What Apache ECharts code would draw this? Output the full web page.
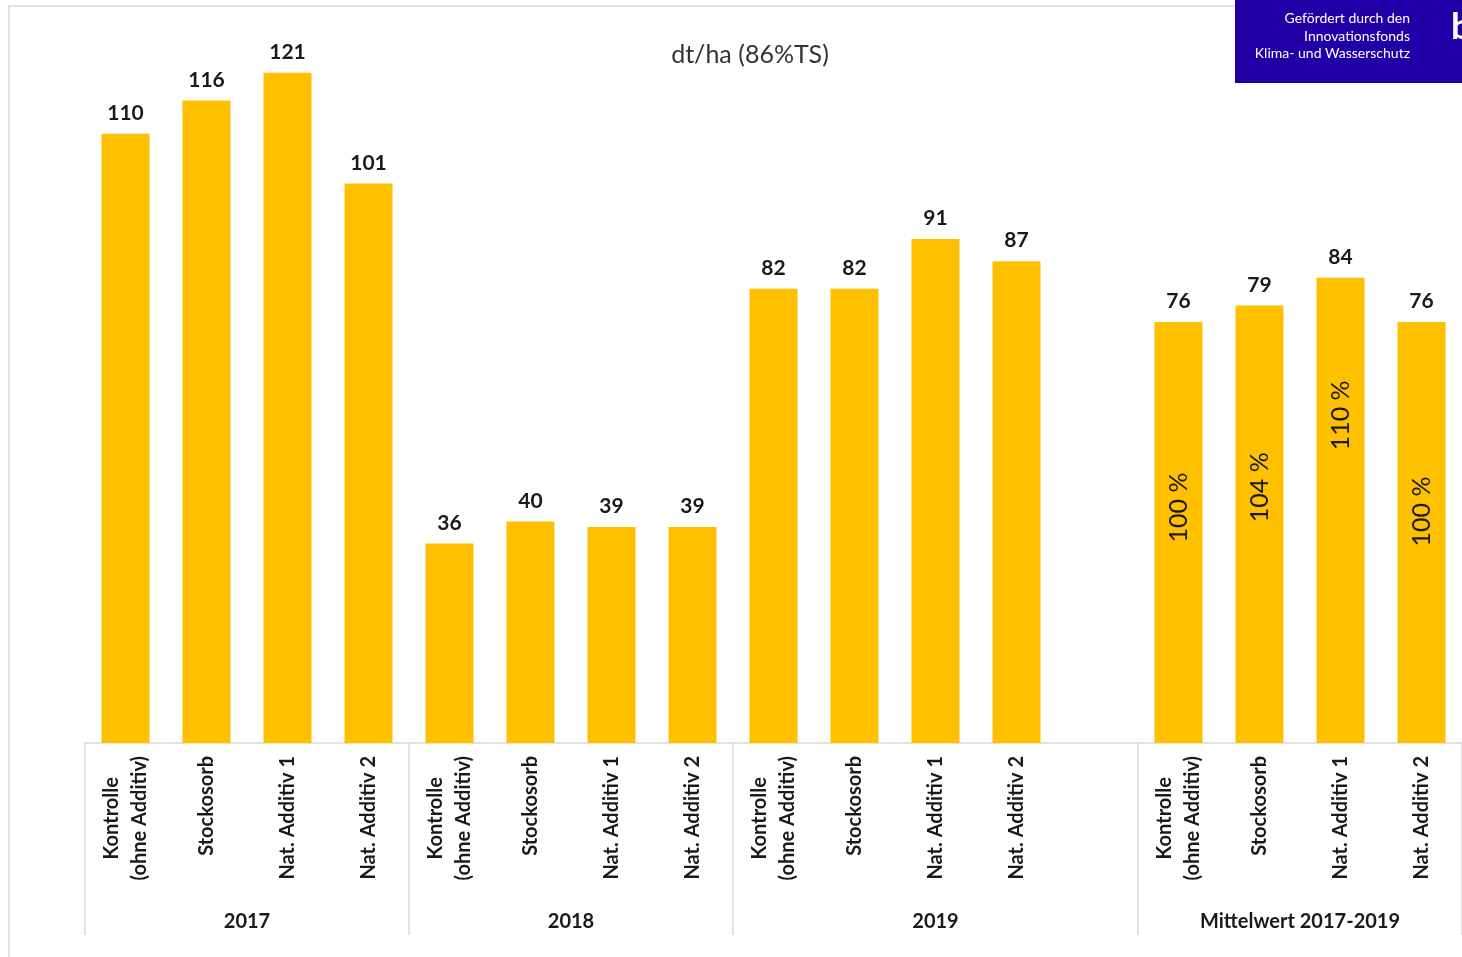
<!DOCTYPE html>
<html>
<head>
<meta charset="utf-8">
<script src="https://cdn.jsdelivr.net/npm/echarts@6/dist/echarts.min.js"></script>
<style>html,body{margin:0;padding:0;background:#fff;}#c{width:1462px;height:957px;}</style>
</head>
<body>
<div id="c"></div>
<script>
// ---- data ----
const treatments = ['Kontrolle\n(ohne Additiv)', 'Stockosorb', 'Nat. Additiv 1', 'Nat. Additiv 2'];
const categories = [].concat(treatments, treatments, treatments, [''], treatments);
const yields = [110, 116, 121, 101, 36, 40, 39, 39, 82, 82, 91, 87, null, 76, 79, 84, 76];
const percents = [null, null, null, null, null, null, null, null, null, null, null, null, null, 100, 104, 110, 100];
const groupNames = ['2017', '2018', '2019', 'Mittelwert 2017-2019'];
const groupSpans = [4, 4, 5, 4];
const titleText = 'dt/ha (86%TS)';
const logoLines = ['Gefördert durch den', 'Innovationsfonds', 'Klima- und Wasserschutz'];

// ---- build group axis (half-slot points) ----
const groupPoints = [];
for (let i = 0; i <= categories.length * 2; i++) groupPoints.push('');
const tickIdx = new Set();
const labelIdx = {};
let start = 0;
groupNames.forEach((g, k) => {
  tickIdx.add(start * 2);
  const c = start * 2 + groupSpans[k];
  groupPoints[c] = g;
  labelIdx[c] = true;
  start += groupSpans[k];
});
tickIdx.add(start * 2);

const FONT = 'Lato, "Open Sans", sans-serif';
const pctOffsets = [[25, 0], [37, 0], [95, 0], [21, 0]];

const chart = echarts.init(document.getElementById('c'));
chart.setOption({
  animation: false,
  backgroundColor: '#fff',
  textStyle: { fontFamily: FONT },
  title: {
    text: titleText, left: 745, top: 37, textAlign: 'center',
    textStyle: { fontSize: 25, fontWeight: 'normal', color: '#333', fontFamily: FONT }
  },
  grid: { left: 85, right: 0, top: 23, bottom: 214, containLabel: false },
  xAxis: [{
    type: 'category', data: categories,
    axisLine: { lineStyle: { color: '#d9d9d9', width: 1.5 } },
    axisTick: { show: false },
    axisLabel: {
      interval: 0, rotate: 90, margin: 13, fontSize: 20, fontWeight: 'bold', color: '#1a1a1a',
      fontFamily: FONT,
      formatter: v => v.split('\n').map(s => '{a|' + s + '}').join('\n'),
      rich: { a: { align: 'center', fontSize: 20, fontWeight: 'bold', color: '#1a1a1a', fontFamily: FONT, lineHeight: 28 } }
    }
  }, {
    type: 'category', data: groupPoints, boundaryGap: false, position: 'bottom',
    axisLine: { show: false },
    axisTick: { show: true, length: 192, interval: (i) => tickIdx.has(i), lineStyle: { color: '#d9d9d9', width: 1.5 } },
    axisLabel: { interval: (i) => !!labelIdx[i], margin: 169, fontSize: 20, fontWeight: 'bold', color: '#1a1a1a', fontFamily: FONT }
  }],
  yAxis: { type: 'value', min: 0, max: 130, show: false, splitLine: { show: false } },
  series: [{
    type: 'bar', data: yields, barWidth: 48, xAxisIndex: 0,
    itemStyle: { color: '#FFC000' },
    label: { show: true, position: 'top', distance: 10, fontSize: 21, fontWeight: 'bold', color: '#1a1a1a', fontFamily: FONT }
  }, {
    type: 'bar', xAxisIndex: 0, barWidth: 48, barGap: '-100%', silent: true,
    data: yields.map((v, i) => {
      if (percents[i] == null) return null;
      const k = i - percents.findIndex(p => p != null);
      return { value: v, label: { offset: pctOffsets[k] } };
    }),
    itemStyle: { color: 'rgba(0,0,0,0)' },
    label: {
      show: true, position: 'inside', rotate: 90, fontSize: 25, color: '#1a1a1a', fontFamily: FONT,
      formatter: p => percents[p.dataIndex] + ' %'
    }
  }],
  graphic: [
    { type: 'rect', shape: { x: 9, y: 6, width: 1600, height: 1100 }, style: { fill: 'none', stroke: '#d9d9d9', lineWidth: 1.5 }, z: -1 },
    { type: 'rect', shape: { x: 1235, y: 0, width: 227, height: 83 }, style: { fill: '#2000a6' }, z: 10 },
    { type: 'text', x: 1410, y: 18, style: { text: logoLines[0], fill: '#fff', font: '14px ' + FONT, align: 'right', verticalAlign: 'middle' }, z: 11 },
    { type: 'text', x: 1410, y: 36, style: { text: logoLines[1], fill: '#fff', font: '14px ' + FONT, align: 'right', verticalAlign: 'middle' }, z: 11 },
    { type: 'text', x: 1410, y: 53, style: { text: logoLines[2], fill: '#fff', font: '14px ' + FONT, align: 'right', verticalAlign: 'middle' }, z: 11 },
    { type: 'text', x: 1451, y: 27, style: { text: 'b', fill: '#fff', font: 'bold 36px ' + FONT, align: 'left', verticalAlign: 'middle' }, z: 11 }
  ]
});
</script>
</body>
</html>
